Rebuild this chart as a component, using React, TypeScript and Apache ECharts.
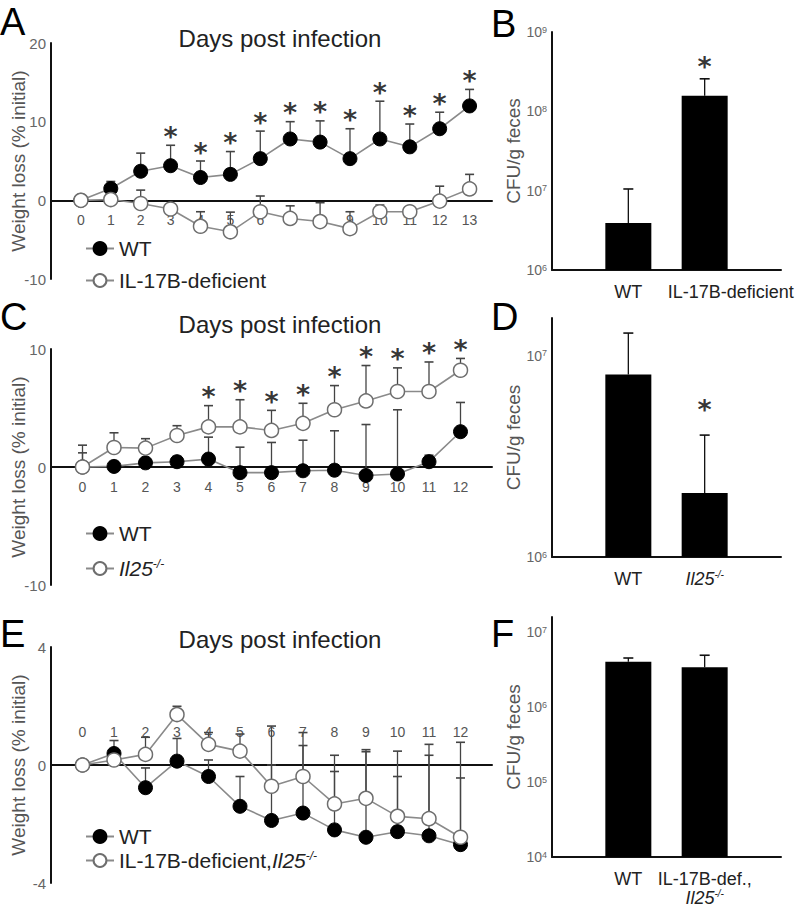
import React, { useEffect, useRef } from 'react';
import * as echarts from 'echarts';

// ---------- Panel A ----------
const daysA = [0, 1, 2, 3, 4, 5, 6, 7, 8, 9, 10, 11, 12, 13];
const wtA = [0, 1.5, 3.7, 4.4, 2.9, 3.3, 5.3, 7.8, 7.4, 5.3, 7.8, 6.8, 9.1, 12.0];
const wtErrA = [null, 2.4, 6.0, 7.0, 5.0, 6.2, 8.8, 10.0, 10.1, 9.1, 12.6, 9.7, 11.2, 14.1];
const koA = [0, 0.1, -0.4, -1.1, -3.3, -4.0, -1.45, -2.3, -2.7, -3.6, -1.45, -1.45, -0.1, 1.45];
const koErrA = [null, 0.5, 1.3, -0.6, -1.45, -1.5, 0.55, -0.7, -0.3, -1.45, -0.6, -1.0, 1.8, 3.3];
const sigA = [3, 4, 5, 6, 7, 8, 9, 10, 11, 12, 13];

// ---------- Panel C ----------
const daysC = [0, 1, 2, 3, 4, 5, 6, 7, 8, 9, 10, 11, 12];
const wtC = [0, 0.05, 0.35, 0.45, 0.67, -0.48, -0.48, -0.32, -0.27, -0.72, -0.59, 0.45, 2.99];
const wtErrC = [1.2, 0.4, 0.6, 0.9, 2.53, 1.68, 2.08, 2.27, 3.07, 3.6, 4.85, 1.0, 5.47];
const koC = [0, 1.65, 1.6, 2.67, 3.4, 3.4, 3.1, 3.7, 4.85, 5.6, 6.4, 6.4, 8.2];
const koErrC = [1.85, 2.9, 2.4, 3.5, 5.2, 5.7, 4.8, 5.4, 6.9, 8.6, 8.4, 8.9, 9.2];
const sigC = [4, 5, 6, 7, 8, 9, 10, 11, 12];

// ---------- Panel E ----------
const daysE = [0, 1, 2, 3, 4, 5, 6, 7, 8, 9, 10, 11, 12];
const wtE = [0, 0.39, -0.77, 0.13, -0.39, -1.4, -1.88, -1.63, -2.2, -2.45, -2.26, -2.4, -2.7];
const wtErrE = [null, 0.83, -0.1, 0.9, 0.17, -0.39, 0, 0.66, -0.22, 0.45, -0.39, 0.33, -0.44];
const koE = [0, 0.17, 0.36, 1.71, 0.7, 0.47, -0.72, -0.39, -1.32, -1.13, -1.74, -1.82, -2.45];
const koErrE = [null, 0.5, 0.94, 1.99, 1.1, 1.05, 1.32, 1.1, 0.33, 0.52, 0.47, 0.7, 0.77];

// ---------- Bar panels (CFU/g feces) ----------
const catsB = ['WT', 'IL-17B-deficient'];
const cfuB = [3.9e6, 1.57e8];
const cfuErrB = [1.05e7, 2.57e8];
const sigB = [1];

const catsD = ['WT', 'Il25-/-'];
const cfuD = [8.1e6, 2.08e6];
const cfuErrD = [1.3e7, 4.04e6];
const sigD = [1];

const catsF = ['WT', 'IL-17B-def.,\nIl25-/-'];
const cfuF = [4.0e6, 3.4e6];
const cfuErrF = [4.5e6, 4.9e6];

const nameWT = 'WT';
const nameKO_A = 'IL-17B-deficient';
const nameKO_C = 'Il25-/-';
const nameKO_E = 'IL-17B-deficient,Il25-/-';

const FONT = 'Liberation Sans, Arial, sans-serif';

const richName = (s: string) => s.replace('Il25-/-', '{i|Il25}{s|-/-}');

function makeRich(size: number, color: string) {
  return {
    i: { fontStyle: 'italic', fontSize: size, color, fontFamily: FONT },
    s: { fontStyle: 'italic', fontSize: Math.round(size * 0.55), color, verticalAlign: 'top', fontFamily: FONT },
    sh: { fontSize: size, color, fontFamily: FONT, padding: [0, 0, 0, 52] },
  };
}

function errSeries(idx: number, xs: number[], vals: number[], tops: (number | null)[], color: string, capW: number) {
  const data: number[][] = [];
  xs.forEach((x, i) => {
    if (tops[i] != null) data.push([x, vals[i], tops[i] as number]);
  });
  return {
    type: 'custom',
    xAxisIndex: idx,
    yAxisIndex: idx,
    z: 1,
    silent: true,
    data,
    encode: { x: 0, y: [1, 2] },
    renderItem: (params: any, api: any) => {
      const x = api.value(0);
      const p0 = api.coord([x, api.value(1)]);
      const p1 = api.coord([x, api.value(2)]);
      return {
        type: 'group',
        children: [
          { type: 'line', shape: { x1: p0[0], y1: p0[1], x2: p1[0], y2: p1[1] }, style: { stroke: color, lineWidth: 1.3 } },
          { type: 'line', shape: { x1: p1[0] - capW / 2, y1: p1[1], x2: p1[0] + capW / 2, y2: p1[1] }, style: { stroke: color, lineWidth: 1.6 } },
        ],
      };
    },
  };
}

function lineSeries(idx: number, name: string, xs: number[], vals: number[], filled: boolean) {
  return {
    type: 'line',
    name,
    xAxisIndex: idx,
    yAxisIndex: idx,
    z: 3,
    data: xs.map((x, i) => [x, vals[i]]),
    symbol: 'circle',
    symbolSize: 14,
    lineStyle: { color: '#8a8a8a', width: 1.6 },
    itemStyle: filled
      ? { color: '#000', borderColor: '#000', borderWidth: 1 }
      : { color: '#fff', borderColor: '#6e6e6e', borderWidth: 1.5 },
  };
}

function starSeries(idx: number, pts: number[][], offY: number) {
  return {
    type: 'scatter',
    xAxisIndex: idx,
    yAxisIndex: idx,
    z: 5,
    silent: true,
    symbolSize: 0,
    data: pts,
    label: {
      show: true,
      formatter: '*',
      position: 'inside',
      offset: [0, offY],
      fontSize: 27,
      fontWeight: 'bold',
      fontFamily: 'DejaVu Sans',
      color: '#000',
    },
  };
}

function dayXAxis(idx: number, max: number, days: number[], inside: boolean, margin: number, offset: number) {
  return {
    type: 'value',
    gridIndex: idx,
    min: -1,
    max,
    interval: 1,
    offset,
    axisLine: { show: true, onZero: false, lineStyle: { color: '#111', width: 2 } },
    axisTick: { show: false },
    splitLine: { show: false },
    axisLabel: {
      inside,
      margin,
      fontSize: 14,
      color: '#555',
      fontFamily: FONT,
      formatter: (v: number) => (days.indexOf(v) >= 0 ? String(v) : ''),
    },
  };
}

function weightYAxis(idx: number, min: number, max: number, interval: number) {
  return {
    type: 'value',
    gridIndex: idx,
    min,
    max,
    interval,
    axisLine: { show: true, onZero: false, lineStyle: { color: '#111', width: 2 } },
    axisTick: { show: false },
    splitLine: { show: false },
    axisLabel: { fontSize: 15, color: '#666', margin: 5, fontFamily: FONT },
    name: 'Weight loss (% initial)',
    nameLocation: 'middle',
    nameRotate: 90,
    nameGap: 23,
    nameMoveOverlap: false,
    nameTextStyle: { fontSize: 19, color: '#555', fontFamily: FONT },
  };
}

function catXAxis(idx: number, cats: string[], shiftSecond: boolean) {
  return {
    type: 'value',
    gridIndex: idx,
    min: 0,
    max: 3,
    interval: 1,
    axisLine: { show: true, onZero: false, lineStyle: { color: '#111', width: 2 } },
    axisTick: { show: false },
    splitLine: { show: false },
    axisLabel: {
      margin: 12,
      fontSize: 18,
      color: '#222',
      fontFamily: FONT,
      lineHeight: 19,
      formatter: (v: number) => {
        const c = cats[v - 1];
        if (!c) return '';
        if (shiftSecond && v === 2) return '{sh|' + c + '}';
        return richName(c);
      },
      rich: makeRich(18, '#222'),
    },
  };
}

function logYAxis(idx: number, min: number, max: number) {
  return {
    type: 'log',
    logBase: 10,
    gridIndex: idx,
    min,
    max,
    startValue: min,
    axisLine: { show: true, onZero: false, lineStyle: { color: '#111', width: 2 } },
    axisTick: { show: false },
    splitLine: { show: false },
    axisLabel: {
      fontSize: 14,
      color: '#666',
      margin: 5,
      fontFamily: FONT,
      formatter: (v: number) => {
        const e = Math.log10(v);
        const r = Math.round(e);
        return Math.abs(e - r) < 1e-6 ? '10{s|' + r + '}' : '';
      },
      rich: { s: { fontSize: 9, color: '#666', verticalAlign: 'top', fontFamily: FONT } },
    },
    name: 'CFU/g feces',
    nameLocation: 'middle',
    nameRotate: 90,
    nameGap: 29,
    nameTextStyle: { fontSize: 19, color: '#555', fontFamily: FONT },
  };
}

function barSeries(idx: number, vals: number[]) {
  return {
    type: 'bar',
    xAxisIndex: idx,
    yAxisIndex: idx,
    barWidth: 46,
    clip: true,
    z: 2,
    itemStyle: { color: '#000' },
    data: vals.map((v, i) => [i + 1, v]),
  };
}

function legendAt(names: string[], top: number, gap: number) {
  return {
    data: names,
    orient: 'vertical',
    left: 80,
    top,
    itemGap: gap,
    itemWidth: 28,
    itemHeight: 16,
    selectedMode: false,
    formatter: (n: string) => richName(n),
    textStyle: { fontSize: 21, color: '#222', fontFamily: FONT, rich: makeRich(21, '#222') },
  };
}

function letter(t: string, x: number, y: number) {
  return { type: 'text', x, y, style: { text: t, fontSize: 38, fill: '#000', fontFamily: FONT, textVerticalAlign: 'top' } };
}
function heading(y: number) {
  return {
    type: 'text',
    x: 280,
    y,
    style: { text: 'Days post infection', fontSize: 24, fill: '#222', fontFamily: FONT, textAlign: 'center', textVerticalAlign: 'middle' },
  };
}

function gridAt(left: number, top: number, width: number, height: number) {
  return { left, top, width, height, containLabel: false, outerBoundsMode: 'none' };
}

export default function App() {
  const ref = useRef<HTMLDivElement>(null);
  useEffect(() => {
    document.body.style.margin = '0';
    if (!ref.current) return;
    const chart = echarts.init(ref.current, undefined, { renderer: 'svg' });
    const option: any = {
      animation: false,
      textStyle: { fontFamily: FONT },
      grid: [
        gridAt(51, 43, 441, 236),
        gridAt(552, 32, 229, 238),
        gridAt(51, 349, 441, 236),
        gridAt(552, 318, 229, 239),
        gridAt(51, 647, 441, 236),
        gridAt(552, 617, 229, 240),
      ],
      xAxis: [
        dayXAxis(0, 13.75, daysA, false, 13, -78.67),
        catXAxis(1, catsB, true),
        dayXAxis(2, 13, daysC, false, 13, -118),
        catXAxis(3, catsD, false),
        dayXAxis(4, 13, daysE, true, 26, -118),
        catXAxis(5, catsF, false),
      ],
      yAxis: [
        weightYAxis(0, -10, 20, 10),
        logYAxis(1, 1e6, 1e9),
        weightYAxis(2, -10, 10, 10),
        logYAxis(3, 1e6, 1.545e7),
        weightYAxis(4, -4, 4, 4),
        logYAxis(5, 1e4, 1.585e7),
      ],
      legend: [
        legendAt([nameWT, nameKO_A], 233, 11),
        legendAt([nameWT, nameKO_C], 518, 14),
        legendAt([nameWT, nameKO_E], 821, 3),
      ],
      graphic: [
        letter('A', 0, 3),
        letter('B', 491, 5),
        letter('C', 0, 298),
        letter('D', 491, 298),
        letter('E', 0, 615),
        letter('F', 491, 615),
        heading(38),
        heading(324),
        heading(639),
      ],
      series: [
        // A
        errSeries(0, daysA, wtA, wtErrA, '#444', 9),
        errSeries(0, daysA, koA, koErrA, '#444', 9),
        lineSeries(0, nameWT, daysA, wtA, true),
        lineSeries(0, nameKO_A, daysA, koA, false),
        starSeries(0, sigA.map((d) => [d, wtErrA[d] as number]), -9),
        // B
        barSeries(1, cfuB),
        errSeries(1, [1, 2], cfuB, cfuErrB, '#111', 10),
        starSeries(1, sigB.map((i) => [i + 1, cfuErrB[i]]), -12),
        // C
        errSeries(2, daysC, wtC, wtErrC, '#444', 9),
        errSeries(2, daysC, koC, koErrC, '#444', 9),
        lineSeries(2, nameWT, daysC, wtC, true),
        lineSeries(2, nameKO_C, daysC, koC, false),
        starSeries(2, sigC.map((d) => [d, koErrC[d]]), -9),
        // D
        barSeries(3, cfuD),
        errSeries(3, [1, 2], cfuD, cfuErrD, '#111', 10),
        starSeries(3, sigD.map((i) => [i + 1, cfuErrD[i]]), -26),
        // E
        errSeries(4, daysE, wtE, wtErrE, '#444', 9),
        errSeries(4, daysE, koE, koErrE, '#444', 9),
        lineSeries(4, nameWT, daysE, wtE, true),
        lineSeries(4, nameKO_E, daysE, koE, false),
        // F
        barSeries(5, cfuF),
        errSeries(5, [1, 2], cfuF, cfuErrF, '#111', 10),
      ],
    };
    chart.setOption(option);
    return () => chart.dispose();
  }, []);
  return <div ref={ref} style={{ position: 'absolute', left: 0, top: 0, width: 800, height: 908 }} />;
}
